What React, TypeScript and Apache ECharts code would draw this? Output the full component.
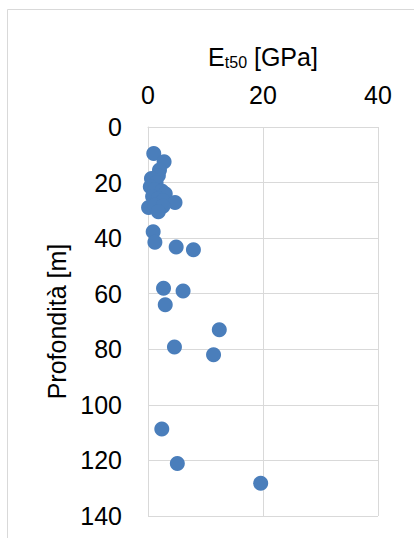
import React, { useEffect, useRef } from "react";
import * as echarts from "echarts";

const etValues: number[] = [
  1.0, 2.8, 2.0, 1.8, 0.6, 1.4, 0.4, 1.2, 2.4, 3.0, 0.8, 1.8, 2.6, 4.7, 0.1, 1.2,
  2.6, 1.8, 0.9, 1.2, 4.9, 7.9, 2.7, 6.1, 3.0, 12.4, 4.6, 11.4, 2.4, 5.1, 19.6,
];
const depths: number[] = [
  9.5, 12.5, 15.5, 17.5, 18.5, 20, 21.5, 22.5, 23.0, 24.0, 25.0, 25.8, 26.5, 27.2, 29.0, 28.2,
  28.5, 30.5, 37.7, 41.5, 43.2, 44.2, 58, 59, 64, 73, 79.2, 82, 108.7, 121.1, 128.2,
];
const xTicks = { min: 0, max: 40, interval: 20 };
const yTicks = { min: 0, max: 140, interval: 20 };

const FONT = "'Liberation Sans', Arial, sans-serif";
const GRID = "#d9d9d9";

export default function App() {
  const ref = useRef<HTMLDivElement>(null);
  useEffect(() => {
    if (!ref.current) return;
    const chart = echarts.init(ref.current, undefined, { renderer: "svg" });
    const data = etValues.map((v, i) => [v, depths[i]]);
    chart.setOption({
      animation: false,
      textStyle: { fontFamily: FONT },
      graphic: [
        {
          type: "rect",
          shape: { x: 7.5, y: 9.5, width: 700, height: 800 },
          style: { fill: "none", stroke: GRID, lineWidth: 1 },
          silent: true,
        },
      ],
      grid: { left: 148, top: 127, width: 230, height: 389, containLabel: false },
      xAxis: {
        type: "value",
        position: "top",
        min: xTicks.min,
        max: xTicks.max,
        interval: xTicks.interval,
        name: "{m|E}{s|t50}{m| [GPa]}",
        nameLocation: "middle",
        nameGap: 57,
        nameTextStyle: {
          rich: {
            m: { fontSize: 25, color: "#000", fontFamily: FONT },
            s: { fontSize: 16, color: "#000", fontFamily: FONT, padding: [11, 0, 0, 0] },
          },
        },
        axisLine: { show: true, lineStyle: { color: GRID, width: 1 } },
        axisTick: { show: false },
        axisLabel: { fontSize: 25, color: "#000", margin: 20, fontFamily: FONT },
        splitLine: { show: true, lineStyle: { color: GRID, width: 1 } },
      },
      yAxis: {
        type: "value",
        inverse: true,
        min: yTicks.min,
        max: yTicks.max,
        interval: yTicks.interval,
        name: "Profondità [m]",
        nameLocation: "middle",
        nameRotate: 90,
        nameGap: 75,
        nameTextStyle: { fontSize: 25, color: "#000", fontFamily: FONT },
        axisLine: { show: true, lineStyle: { color: GRID, width: 1 } },
        axisTick: { show: false },
        axisLabel: { fontSize: 25, color: "#000", margin: 26, fontFamily: FONT },
        splitLine: { show: true, lineStyle: { color: GRID, width: 1 } },
      },
      series: [
        {
          type: "scatter",
          data,
          symbol: "circle",
          symbolSize: 15,
          itemStyle: { color: "#4a7ebb", opacity: 1 },
        },
      ],
    });
    return () => chart.dispose();
  }, []);
  return (
    <div
      ref={ref}
      style={{ position: "fixed", left: 0, top: 0, width: 414, height: 538, background: "#fff" }}
    />
  );
}
